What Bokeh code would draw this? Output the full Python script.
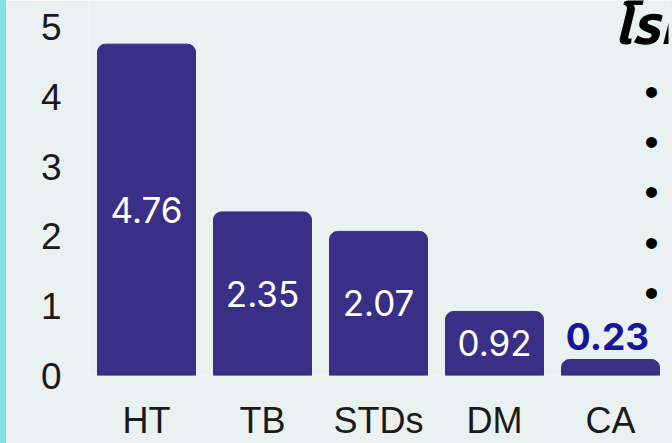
from bokeh.plotting import figure
from bokeh.models import ColumnDataSource, Range1d, FactorRange, Label, Spacer
from bokeh.layouts import row
from bokeh.embed import file_html
from bokeh.resources import INLINE
from bokeh.core.properties import value

# ---- data ----
categories = ["HT", "TB", "STDs", "DM", "CA"]
values = [4.76, 2.35, 2.07, 0.92, 0.23]
value_labels = ["4.76", "2.35", "2.07", "0.92", "0.23"]
y_ticks = [0, 1, 2, 3, 4, 5]
side_title = "โรค"
bullet_count = 5

# ---- style ----
BAR = "#3a2f87"
BG = "#eaf2f1"
STRIP = "#7fe4e1"
TXT = "#1a1a1a"
OUT_LABEL = "#16169a"
INSIDE_MIN = 0.5
Y_TOP = 376 / 69.8

inside = [i for i, v in enumerate(values) if v >= INSIDE_MIN]
outside = [i for i, v in enumerate(values) if v < INSIDE_MIN]

src = ColumnDataSource(dict(cat=categories, val=values))
src_in = ColumnDataSource(dict(
    cat=[categories[i] for i in inside],
    y=[values[i] / 2 for i in inside],
    label=[value_labels[i] for i in inside],
))
src_out = ColumnDataSource(dict(
    cat=[categories[i] for i in outside],
    y=[values[i] for i in outside],
    label=[value_labels[i] for i in outside],
))

p = figure(
    x_range=FactorRange(*categories),
    y_range=Range1d(0, Y_TOP),
    width=666, height=443,
    output_backend="svg", toolbar_location=None,
    min_border_left=82, min_border_right=4,
    min_border_top=0, min_border_bottom=67,
)
p.vbar(x="cat", top="val", width=0.845, source=src, color=BAR,
       border_radius=(8, 8, 0, 0))

p.text(x="cat", y="y", text="label", source=src_in, text_color="white",
       text_font=value("Inter"), text_font_size="35px",
       text_align="center", text_baseline="middle")
p.text(x="cat", y="y", text="label", source=src_out, text_color=OUT_LABEL,
       text_font=value("Inter"), text_font_size="37px", text_font_style="bold",
       text_align="center", text_baseline="middle", x_offset=-3, y_offset=-23)

# partially visible side panel (title and bullets)
p.add_layout(Label(x=4.52, y=Y_TOP, y_offset=14, text=side_title, text_font="Noto Sans Thai",
                   text_font_size="54px", text_font_style="bold italic",
                   text_color="#000000", text_baseline="top"))
for k in range(bullet_count):
    p.add_layout(Label(x=4.853, y=4.076 - k * 0.7235, text="•",
                       text_font="Liberation Sans", text_font_size="40px",
                       text_color="#000000", text_align="center",
                       text_baseline="middle"))

for ax in (p.xaxis[0], p.yaxis[0]):
    ax.axis_line_color = None
    ax.major_tick_line_color = None
    ax.minor_tick_line_color = None
    ax.major_label_text_font = "Liberation Sans"
    ax.major_label_text_font_size = "36px"
    ax.major_label_text_color = TXT
p.yaxis.major_label_text_font_size = "37px"
p.xaxis.major_label_standoff = 18
p.yaxis.major_label_standoff = 21
p.yaxis.ticker = y_ticks
p.xgrid.grid_line_color = None
p.ygrid.grid_line_color = None
p.outline_line_color = None
p.background_fill_color = BG
p.border_fill_color = BG

strip = Spacer(width=6, height=443, styles={"background-color": STRIP})
layout = row(strip, p)

open("out.html", "w").write(file_html(layout, INLINE))
